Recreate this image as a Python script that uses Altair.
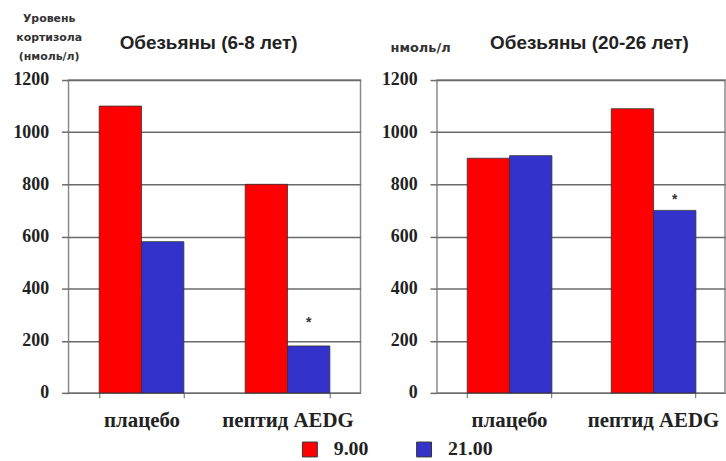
import altair as alt
import pandas as pd

# Cortisol level (nmol/l) in monkeys, morning (9.00) vs evening (21.00)
groups = ["плацебо", "пептид AEDG"]
times = ["9.00", "21.00"]

young_morning = [1100, 800]
young_evening = [580, 180]
old_morning = [900, 1090]
old_evening = [910, 700]

# significance marker for each evening value
young_sig = ["", "*"]
old_sig = ["", "*"]

colors = ["#FF0000", "#3333CC"]
SERIF = "Liberation Serif, Times New Roman, serif"
SANS = "Liberation Sans, Arial, sans-serif"
WIDE = "DejaVu Sans, Verdana, sans-serif"


def make_frame(morning, evening, sig):
    rows = []
    for i, g in enumerate(groups):
        rows.append({"group": g, "time": times[0], "value": morning[i], "mark": ""})
        rows.append({"group": g, "time": times[1], "value": evening[i], "mark": sig[i]})
    return pd.DataFrame(rows)


def panel(df, title, axis_title, title_x, title_y, title_size, head_x, star_dy, width):
    base = alt.Chart(df)
    x_scale = alt.Scale(paddingInner=0.42, paddingOuter=0.21)
    x = alt.X(
        "group:N",
        sort=groups,
        scale=x_scale,
        axis=alt.Axis(
            title=None,
            labelAngle=0,
            labelFont=SERIF,
            labelFontWeight="bold",
            labelFontSize=21,
            labelColor="#222222",
            labelPadding=12,
            tickBand="extent",
            tickSize=5,
            tickColor="#666666",
            domain=False,
            grid=False,
        ),
    )
    # top axis carries the panel heading only
    x_top = alt.X(
        "group:N",
        sort=groups,
        scale=x_scale,
        axis=alt.Axis(
            orient="top",
            title=title,
            labels=False,
            ticks=False,
            domain=False,
            grid=False,
            titleX=head_x,
            titleY=-38,
            titleAlign="left",
            titleBaseline="middle",
            titleFont=SANS,
            titleFontWeight="bold",
            titleFontSize=19,
            titleColor="#222222",
        ),
    )
    xo = alt.XOffset("time:N", sort=times, scale=alt.Scale(paddingInner=0, paddingOuter=0))
    y = alt.Y(
        "value:Q",
        scale=alt.Scale(domain=[0, 1200], nice=False),
        axis=alt.Axis(
            values=[0, 200, 400, 600, 800, 1000, 1200],
            format="d",
            title=axis_title,
            titleAngle=0,
            titleX=title_x,
            titleY=title_y,
            titleAlign="center",
            titleBaseline="top",
            titleFont=WIDE,
            titleFontWeight="bold",
            titleFontSize=title_size,
            titleLineHeight=19,
            titleColor="#333333",
            labelFont=SERIF,
            labelFontWeight="bold",
            labelFontSize=18,
            labelColor="#222222",
            labelPadding=13,
            tickSize=7,
            tickColor="#6a6a6a",
            tickWidth=1.5,
            domain=False,
            grid=True,
            gridColor="#6a6a6a",
            gridWidth=1.5,
        ),
    )
    bars = base.mark_bar(stroke="#333333", strokeWidth=0.8).encode(
        x=x,
        xOffset=xo,
        y=y,
        color=alt.Color(
            "time:N",
            sort=times,
            scale=alt.Scale(domain=times, range=colors),
            legend=alt.Legend(
                title=None,
                orient="none",
                direction="horizontal",
                legendX=233,
                legendY=362,
                symbolType="square",
                symbolSize=225,
                symbolStrokeColor="#333333",
                symbolStrokeWidth=1,
                labelFont=SERIF,
                labelFontWeight="bold",
                labelFontSize=20,
                labelColor="#222222",
                columnPadding=46,
                labelOffset=14,
            ),
        ),
    )
    stars = base.transform_filter("datum.mark != ''").mark_text(
        font=SANS, fontWeight="bold", fontSize=14, color="#333333",
        baseline="middle", dy=star_dy,
    ).encode(x=x_top, xOffset=xo, y="value:Q", text="mark:N")
    return (
        alt.layer(bars, stars)
        .resolve_axis(x="independent")
        .properties(width=width, height=315)
    )


left = panel(
    make_frame(young_morning, young_evening, young_sig),
    "Обезьяны (6-8 лет)",
    ["Уровень", "кортизола", "(нмоль/л)"],
    -20, -68, 11, 51, -23, 294,
)
right = panel(
    make_frame(old_morning, old_evening, old_sig),
    "Обезьяны (20-26 лет)",
    "нмоль/л",
    -17, -39, 13, 53, -10, 290,
)

chart = (
    alt.hconcat(left, right, spacing=19)
    .resolve_scale(color="shared")
    .properties(padding={"left": 12, "top": 10, "right": 0, "bottom": 0}, background="white")
    .configure_view(stroke="#8a8a8a", strokeWidth=1.5)
    .configure_concat(spacing=19)
)

chart.save("out.html", embed_options={"renderer": "svg", "actions": False})
